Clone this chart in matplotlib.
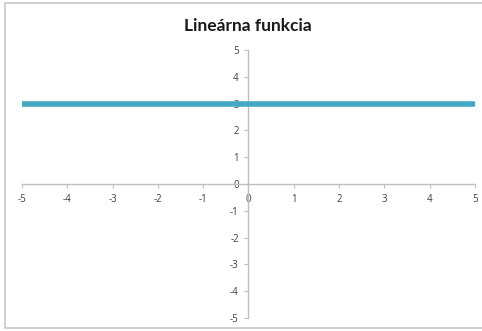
import matplotlib
matplotlib.use("Agg")
import matplotlib.pyplot as plt
from matplotlib.patches import Rectangle

title = "Lineárna funkcia"
x_vals = [-5, 5]
y_vals = [3, 3]
x_ticks = [-5, -4, -3, -2, -1, 0, 1, 2, 3, 4, 5]
y_ticks = [-5, -4, -3, -2, -1, 0, 1, 2, 3, 4, 5]

W, H = 482, 331
fig = plt.figure(figsize=(W / 100, H / 100), dpi=100)
fig.patch.set_facecolor("white")

# chart area border
border = Rectangle((5 / W, 3 / H), 1.2, 1 - 6 / H, transform=fig.transFigure,
                   facecolor="white", edgecolor="#C8C8C8", linewidth=1.2, zorder=-10)
fig.patches.append(border)

ax = fig.add_axes([22 / W, 1 - 318 / H, (475 - 22) / W, (318 - 50) / H])
ax.set_facecolor("none")
ax.plot(x_vals, y_vals, color="#45A8C2", linewidth=4.0, solid_capstyle="butt", zorder=3)
ax.set_xlim(-5, 5)
ax.set_ylim(-5, 5)
ax.set_xticks(x_ticks)
ax.set_yticks(y_ticks)
ax.set_xticklabels([str(v) for v in x_ticks])
ax.set_yticklabels([str(v) for v in y_ticks])

for s in ["top", "right"]:
    ax.spines[s].set_visible(False)
ax.spines["left"].set_position(("data", 0))
ax.spines["bottom"].set_position(("data", 0))
for s in ["left", "bottom"]:
    ax.spines[s].set_color("#BFBFBF")
    ax.spines[s].set_linewidth(1.0)

ax.tick_params(axis="both", direction="out", length=3, width=0.8, color="#BFBFBF",
               labelsize=7, labelcolor="#404040", pad=4)
for lab in ax.get_xticklabels() + ax.get_yticklabels():
    lab.set_fontfamily("Open Sans")

fig.text(248 / W, 1 - 26 / H, title, ha="center", va="center",
         fontsize=12.5, fontweight="bold", fontfamily="Lato", color="#1A1A1A")

fig.savefig("out.png", dpi=100)
